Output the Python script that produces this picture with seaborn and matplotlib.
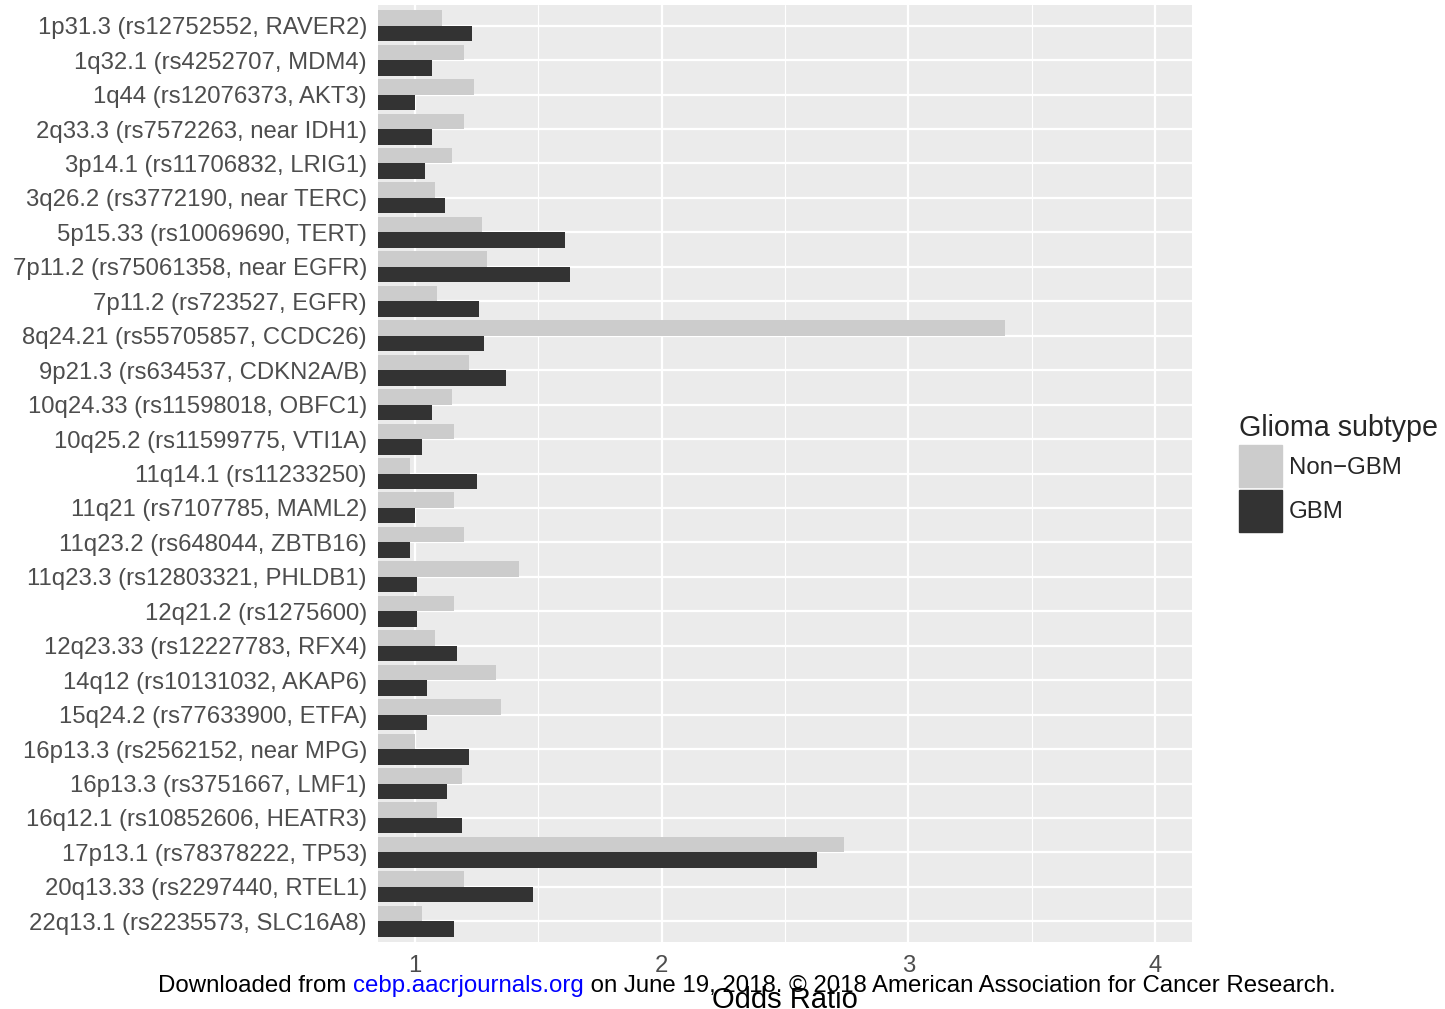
import pandas as pd
import numpy as np
import matplotlib.pyplot as plt
import seaborn as sns
from matplotlib.ticker import MultipleLocator

# Loci (top to bottom)
loci = [
    '1p31.3 (rs12752552, RAVER2)',
    '1q32.1 (rs4252707, MDM4)',
    '1q44 (rs12076373, AKT3)',
    '2q33.3 (rs7572263, near IDH1)',
    '3p14.1 (rs11706832, LRIG1)',
    '3q26.2 (rs3772190, near TERC)',
    '5p15.33 (rs10069690, TERT)',
    '7p11.2 (rs75061358, near EGFR)',
    '7p11.2 (rs723527, EGFR)',
    '8q24.21 (rs55705857, CCDC26)',
    '9p21.3 (rs634537, CDKN2A/B)',
    '10q24.33 (rs11598018, OBFC1)',
    '10q25.2 (rs11599775, VTI1A)',
    '11q14.1 (rs11233250)',
    '11q21 (rs7107785, MAML2)',
    '11q23.2 (rs648044, ZBTB16)',
    '11q23.3 (rs12803321, PHLDB1)',
    '12q21.2 (rs1275600)',
    '12q23.33 (rs12227783, RFX4)',
    '14q12 (rs10131032, AKAP6)',
    '15q24.2 (rs77633900, ETFA)',
    '16p13.3 (rs2562152, near MPG)',
    '16p13.3 (rs3751667, LMF1)',
    '16q12.1 (rs10852606, HEATR3)',
    '17p13.1 (rs78378222, TP53)',
    '20q13.33 (rs2297440, RTEL1)',
    '22q13.1 (rs2235573, SLC16A8)',
]

# Odds ratios
or_non_gbm = [1.11, 1.20, 1.24, 1.20, 1.15, 1.08, 1.27, 1.29, 1.09, 3.39,
              1.22, 1.15, 1.16, 0.98, 1.16, 1.20, 1.42, 1.16, 1.08, 1.33,
              1.35, 1.00, 1.19, 1.09, 2.74, 1.20, 1.03]
or_gbm = [1.23, 1.07, 1.00, 1.07, 1.04, 1.12, 1.61, 1.63, 1.26, 1.28,
          1.37, 1.07, 1.03, 1.25, 1.00, 0.98, 1.01, 1.01, 1.17, 1.05,
          1.05, 1.22, 1.13, 1.19, 2.63, 1.48, 1.16]

subtypes = ['Non\u2212GBM', 'GBM']
colors = ['#CCCCCC', '#333333']

df = pd.DataFrame({
    'Locus': loci * 2,
    'OR': or_non_gbm + or_gbm,
    'Subtype': [subtypes[0]] * len(loci) + [subtypes[1]] * len(loci),
})

sns.set_theme(style='darkgrid')
plt.rcParams['font.family'] = ['Liberation Sans', 'DejaVu Sans']

fig = plt.figure(figsize=(14.45, 10.09), dpi=100)
ax = fig.add_axes([378 / 1445, 1 - 942 / 1009, (1192 - 378) / 1445, (942 - 5) / 1009])
ax.set_facecolor('#EBEBEB')

sns.barplot(data=df, y='Locus', x='OR', hue='Subtype', hue_order=subtypes,
            palette=colors, orient='h', width=0.9, saturation=1, ax=ax,
            order=loci, linewidth=0)

ax.set_xlim(0.85, 4.15)
ax.set_ylim(len(loci) - 0.4, -0.6)
ax.xaxis.set_major_locator(MultipleLocator(1))
ax.xaxis.set_minor_locator(MultipleLocator(0.5))
ax.grid(which='major', color='white', linewidth=1.6)
ax.grid(which='minor', axis='x', color='white', linewidth=0.8)
ax.set_axisbelow(True)
for s in ax.spines.values():
    s.set_visible(False)

ax.tick_params(axis='both', which='major', length=6, width=1.2, color='#333333',
               labelcolor='#4D4D4D', labelsize=17.2, pad=3)
ax.tick_params(axis='x', which='minor', length=0)
ax.tick_params(axis='y', pad=2)
ax.set_ylabel('')
ax.set_xlabel('Odds Ratio', fontsize=21, color='black', labelpad=7)

# Legend
ax.get_legend().remove()
handles = [plt.Rectangle((0, 0), 1, 1, color=c) for c in colors]
leg = fig.legend(handles, subtypes, title='Glioma subtype', loc='center left',
                 bbox_to_anchor=(1239 / 1445, 1 - 473 / 1009), frameon=False,
                 fontsize=17.3, title_fontsize=20.6, handlelength=1.78,
                 handleheight=2.3, labelspacing=0.12, handletextpad=0.3,
                 borderaxespad=0, borderpad=0)
leg._legend_box.align = 'left'

# Watermark line
fig.canvas.draw()
renderer = fig.canvas.get_renderer()
parts = [('Downloaded from ', 'black'), ('cebp.aacrjournals.org', '#0000FF'),
         (' on June 19, 2018. \u00a9 2018 American Association for Cancer Research.', 'black')]
x = 158 / 1445
y = 1 - 986 / 1009
for txt, col in parts:
    t = fig.text(x, y, txt, color=col, fontsize=17.3, va='center', ha='left')
    bb = t.get_window_extent(renderer)
    x += bb.width / fig.bbox.width

fig.savefig('out.png', dpi=100)
